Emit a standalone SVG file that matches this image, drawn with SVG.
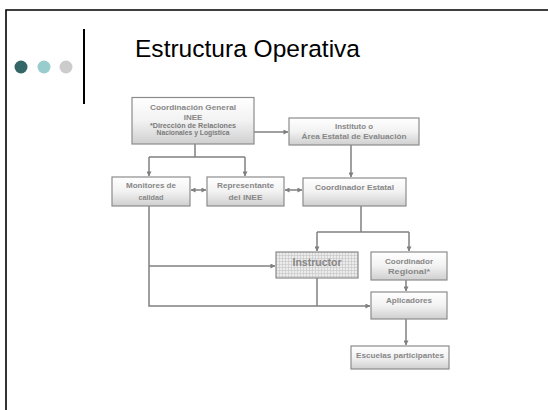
<svg xmlns="http://www.w3.org/2000/svg" width="548" height="410" viewBox="0 0 548 410">
<defs>
<linearGradient id="g" x1="0" y1="0" x2="0" y2="1">
<stop offset="0" stop-color="#ffffff"/>
<stop offset="0.5" stop-color="#f2f2f2"/>
<stop offset="1" stop-color="#cfcfcf"/>
</linearGradient>
<pattern id="grid" width="3" height="3" patternUnits="userSpaceOnUse">
<rect width="3" height="3" fill="#ececec"/>
<path d="M0,0.5 H3 M0.5,0 V3" stroke="#c4c4c4" stroke-width="0.6"/>
</pattern>
<marker id="ah" viewBox="0 0 6 6" refX="5.5" refY="3" markerWidth="5" markerHeight="5" markerUnits="userSpaceOnUse" orient="auto-start-reverse">
<path d="M0,0 L6,3 L0,6 z" fill="#808080"/>
</marker>
<style>
.box{fill:url(#g);stroke:#8c8c8c;stroke-width:1.2}
.t{font-family:"Liberation Sans",Arial,sans-serif;font-weight:bold;fill:#878787;text-anchor:middle;font-size:8px}
.s{font-size:7px;fill:#7a7a7a}
.c{fill:none;stroke:#808080;stroke-width:1.5}
</style>
</defs>
<rect width="548" height="410" fill="#ffffff"/>
<path d="M6,410 V10 H548" fill="none" stroke="#000" stroke-width="1.6"/>
<circle cx="21" cy="67" r="6.5" fill="#336666"/>
<circle cx="44" cy="67" r="6.5" fill="#99cccc"/>
<circle cx="66" cy="67" r="6.5" fill="#cccccc"/>
<line x1="84" y1="29" x2="84" y2="104" stroke="#000" stroke-width="2"/>
<text x="135" y="57" font-family="Liberation Sans,Arial,sans-serif" font-size="24.5" fill="#000" textLength="225" lengthAdjust="spacingAndGlyphs">Estructura Operativa</text>

<g id="connectors">
<path class="c" d="M254,132 H288" marker-end="url(#ah)"/>
<path class="c" d="M195,144 V157 M149,157 H245"/>
<path class="c" d="M149,157 V176" marker-end="url(#ah)"/>
<path class="c" d="M245,157 V176" marker-end="url(#ah)"/>
<path class="c" d="M191,190 H206" marker-start="url(#ah)" marker-end="url(#ah)"/>
<path class="c" d="M285,190 H302" marker-start="url(#ah)" marker-end="url(#ah)"/>
<path class="c" d="M351,145 V177" marker-end="url(#ah)"/>
<path class="c" d="M361,206 V232 M317,232 H409"/>
<path class="c" d="M317,232 V251" marker-end="url(#ah)"/>
<path class="c" d="M409,232 V251" marker-end="url(#ah)"/>
<path class="c" d="M149,206 V306 H370" marker-end="url(#ah)"/>
<path class="c" d="M149,266 H275" marker-end="url(#ah)"/>
<path class="c" d="M317,278 V306"/>
<path class="c" d="M406,280 V291" marker-end="url(#ah)"/>
<path class="c" d="M406,319 V345" marker-end="url(#ah)"/>
</g>

<g id="coord-general">
<rect class="box" x="132" y="97.5" width="122" height="46.5"/>
<text class="t" x="193" y="110" textLength="86" lengthAdjust="spacingAndGlyphs">Coordinación General</text>
<text class="t" x="193" y="120">INEE</text>
<text class="t s" x="193" y="127.5" textLength="86" lengthAdjust="spacingAndGlyphs">*Dirección de Relaciones</text>
<text class="t s" x="193" y="134.5" textLength="73" lengthAdjust="spacingAndGlyphs">Nacionales y Logística</text>
</g>
<g id="instituto">
<rect class="box" x="289" y="118" width="130" height="27"/>
<text class="t" x="354" y="128.5" textLength="38" lengthAdjust="spacingAndGlyphs">Instituto o</text>
<text class="t" x="354" y="138.5" textLength="105" lengthAdjust="spacingAndGlyphs">Área Estatal de Evaluación</text>
</g>
<g id="monitores">
<rect class="box" x="112" y="177" width="78" height="29"/>
<text class="t" x="151" y="188" textLength="50" lengthAdjust="spacingAndGlyphs">Monitores de</text>
<text class="t" x="151" y="199.5" textLength="25" lengthAdjust="spacingAndGlyphs">calidad</text>
</g>
<g id="representante">
<rect class="box" x="207" y="177" width="77" height="29"/>
<text class="t" x="245.5" y="188" textLength="57" lengthAdjust="spacingAndGlyphs">Representante</text>
<text class="t" x="245.5" y="199.5" textLength="34" lengthAdjust="spacingAndGlyphs">del INEE</text>
</g>
<g id="coord-estatal">
<rect class="box" x="303" y="178" width="103" height="28"/>
<text class="t" x="354.5" y="189.5" textLength="79" lengthAdjust="spacingAndGlyphs">Coordinador Estatal</text>
</g>
<g id="instructor">
<rect x="276" y="252" width="82" height="26" fill="url(#grid)" stroke="#8c8c8c" stroke-width="1.2"/>
<text class="t" x="317" y="265.5" style="font-size:10.5px" textLength="49" lengthAdjust="spacingAndGlyphs">Instructor</text>
</g>
<g id="coord-regional">
<rect class="box" x="371" y="252" width="76" height="28"/>
<text class="t" x="409" y="263.5" textLength="48" lengthAdjust="spacingAndGlyphs">Coordinador</text>
<text class="t" x="409" y="273.5" textLength="42" lengthAdjust="spacingAndGlyphs">Regional*</text>
</g>
<g id="aplicadores">
<rect class="box" x="371" y="292" width="76" height="27"/>
<text class="t" x="409" y="303" textLength="46" lengthAdjust="spacingAndGlyphs">Aplicadores</text>
</g>
<g id="escuelas">
<rect class="box" x="351" y="346" width="98" height="23"/>
<text class="t" x="400" y="358" textLength="88" lengthAdjust="spacingAndGlyphs">Escuelas participantes</text>
</g>
</svg>
